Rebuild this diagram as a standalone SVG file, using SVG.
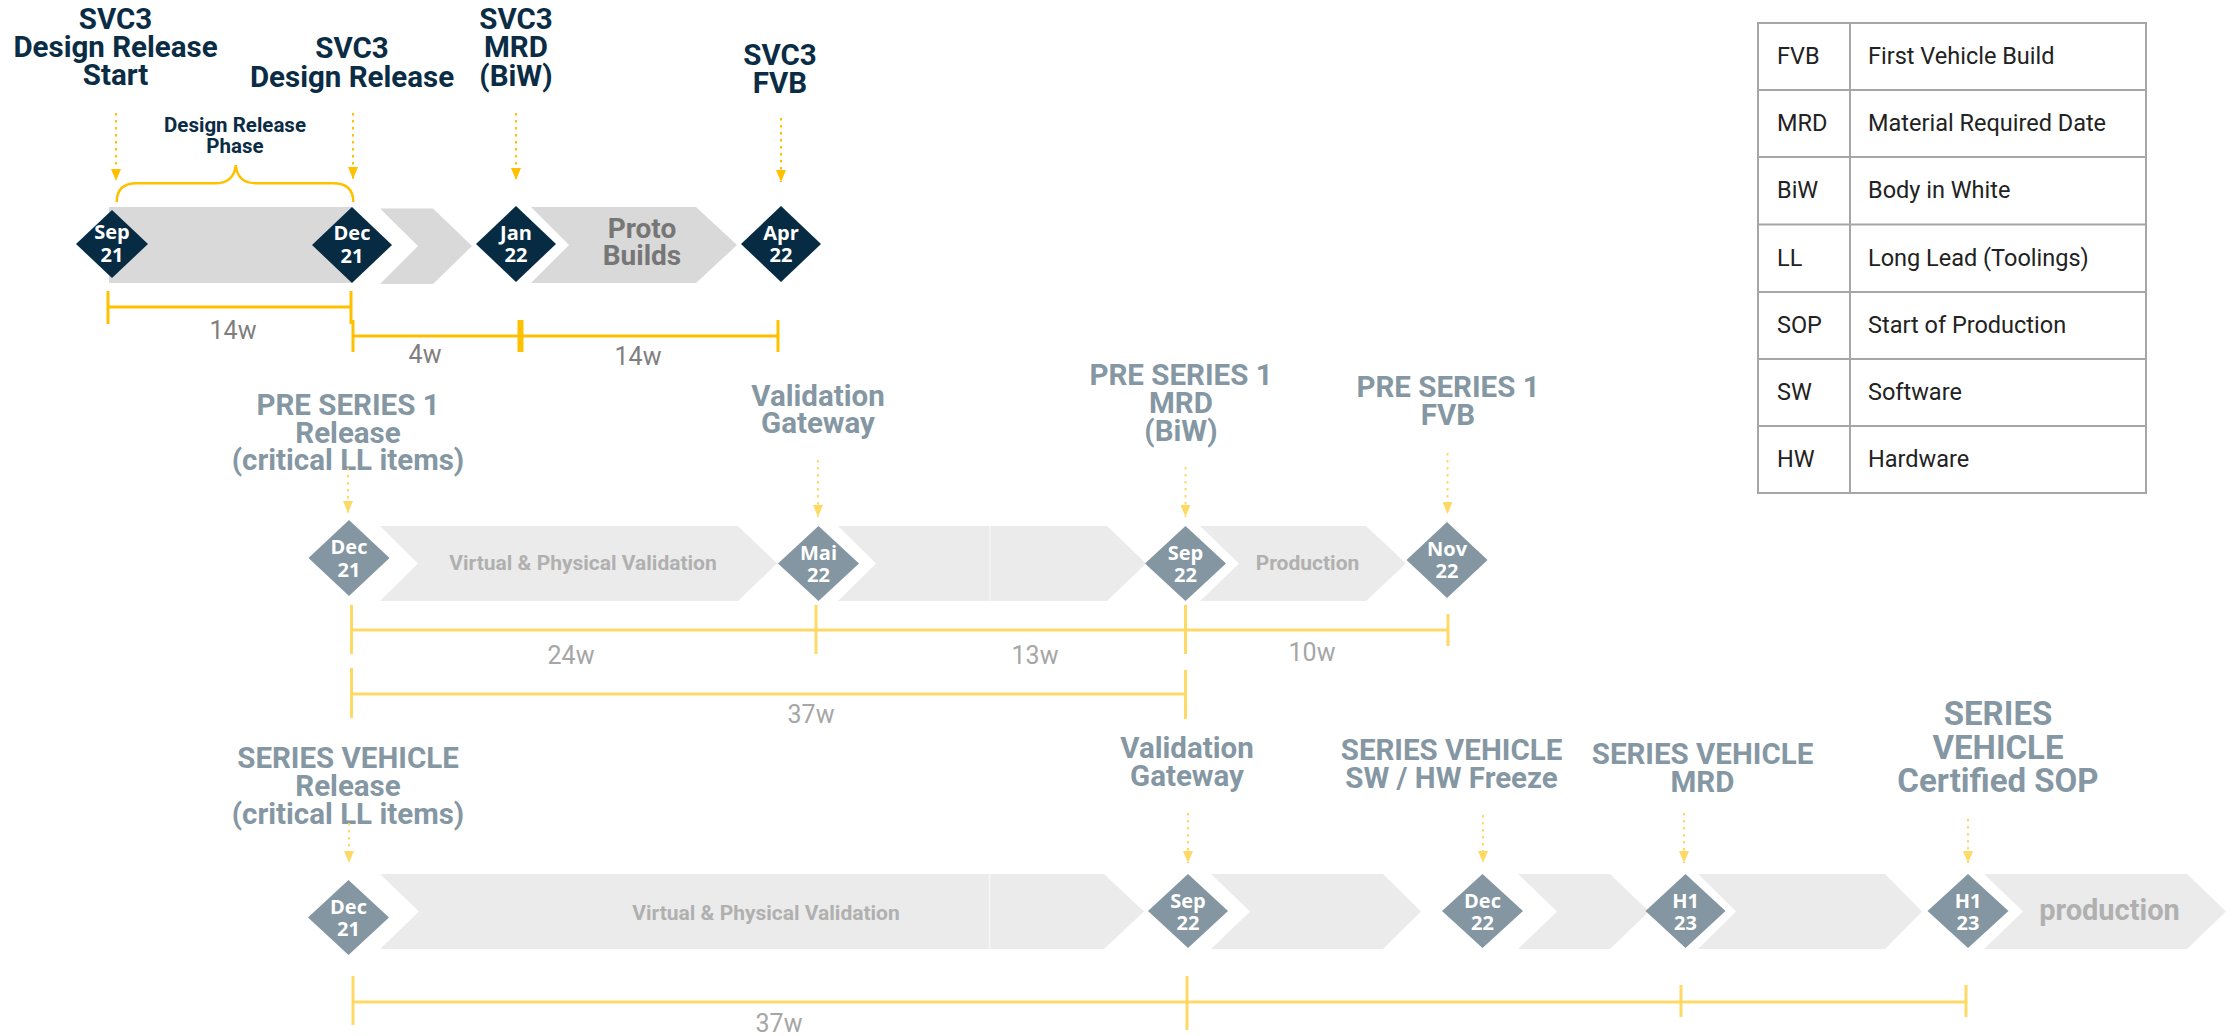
<svg xmlns="http://www.w3.org/2000/svg" width="2229" height="1036" viewBox="0 0 2229 1036">
<style>
.bg{fill:#ffffff}
.lbl1{font-family:Roboto,"Liberation Sans",sans-serif;font-weight:700;font-size:29.5px;fill:#0b2c45;text-anchor:middle}
.lbl2{font-family:Roboto,"Liberation Sans",sans-serif;font-weight:700;font-size:29.5px;fill:#8497a3;text-anchor:middle}
.big{font-size:33px}
.phase{font-family:Roboto,"Liberation Sans",sans-serif;font-weight:700;font-size:20.5px;fill:#0b2c45;text-anchor:middle}
.dtxt{font-family:"Open Sans","Liberation Sans",sans-serif;font-weight:700;font-size:20px;fill:#ffffff;text-anchor:middle}
.dk{fill:#062b43}
.lt{fill:#8396a1}
.ch1{fill:#d9d9d9}
.ch2{fill:#ebebeb}
.ctxt{font-family:Roboto,"Liberation Sans",sans-serif;font-weight:700;font-size:21px;fill:#b0b0b0;text-anchor:middle}
.proto{font-family:Roboto,"Liberation Sans",sans-serif;font-weight:700;font-size:28px;fill:#767676;text-anchor:middle}
.prod{font-family:Roboto,"Liberation Sans",sans-serif;font-weight:700;font-size:29px;fill:#b0b0b0;text-anchor:middle}
.dim1{stroke:#ffc000;stroke-width:3;fill:none}
.dim2{stroke:#ffd966;stroke-width:3;fill:none}
.w1{font-family:Roboto,"Liberation Sans",sans-serif;font-size:25px;fill:#7f7f7f;text-anchor:middle}
.w2{font-family:Roboto,"Liberation Sans",sans-serif;font-size:25px;fill:#a6a6a6;text-anchor:middle}
.dot1{stroke:#ffc000;stroke-width:2;stroke-dasharray:2.5 4.5;fill:none;marker-end:url(#ah1)}
.dot2{stroke:#ffd966;stroke-width:2;stroke-dasharray:2.5 4.5;fill:none;marker-end:url(#ah2)}
.brace{stroke:#ffc000;stroke-width:2.5;fill:none}
.seam{stroke:#f6f6f6;stroke-width:1.5}
.tb{fill:#ffffff;stroke:#a6a6a6;stroke-width:2}
.tl{stroke:#a6a6a6;stroke-width:2}
.tt{font-family:Roboto,"Liberation Sans",sans-serif;font-size:23.5px;fill:#222222}
</style>
<defs>
<marker id="ah1" markerUnits="userSpaceOnUse" markerWidth="12" markerHeight="10" refX="12" refY="5" orient="auto"><path d="M0,0 L12,5 L0,10 z" fill="#ffc000"/></marker>
<marker id="ah2" markerUnits="userSpaceOnUse" markerWidth="12" markerHeight="10" refX="12" refY="5" orient="auto"><path d="M0,0 L12,5 L0,10 z" fill="#ffd966"/></marker>
</defs>
<rect class="bg" x="0" y="0" width="2229" height="1036"/>

<!-- phase bars -->
<g id="bars">
<rect class="ch1" x="109" y="207" width="243" height="76"/>
<polygon class="ch1" points="380,208.5 433,208.5 472,246 433,284 380,284 418,246"/>
<polygon class="ch1" points="531,207 696,207 737,245 696,283 531,283 569,245"/>
<text class="proto" x="642" y="238">Proto</text>
<text class="proto" x="642" y="265">Builds</text>

<polygon class="ch2" points="380,526 738,526 777,563.5 738,601 380,601 418,563.5"/>
<text class="ctxt" x="583" y="570">Virtual &amp; Physical Validation</text>
<polygon class="ch2" points="838,526 1107,526 1146,563.5 1107,601 838,601 876,563.5"/>
<line class="seam" x1="990" y1="526" x2="990" y2="601"/>
<polygon class="ch2" points="1200,526 1366,526 1406,563.5 1366,601 1200,601 1239,563.5"/>
<text class="ctxt" x="1307.5" y="570">Production</text>

<polygon class="ch2" points="380,874 1104,874 1144,911.5 1104,949 380,949 419,911.5"/>
<line class="seam" x1="989.5" y1="874" x2="989.5" y2="949"/>
<text class="ctxt" x="766" y="920">Virtual &amp; Physical Validation</text>
<polygon class="ch2" points="1211,874 1383,874 1421,911.5 1383,949 1211,949 1250,911.5"/>
<polygon class="ch2" points="1518,874 1610,874 1649,911.5 1610,949 1518,949 1557,911.5"/>
<polygon class="ch2" points="1698,874 1885,874 1922,911.5 1885,949 1698,949 1736,911.5"/>
<polygon class="ch2" points="1984,874 2187,874 2226,911.5 2187,949 1984,949 2023,911.5"/>
<text class="prod" x="2109.5" y="920">production</text>
</g>

<!-- milestones row 1 -->
<g id="svc3-start">
<text class="lbl1" x="115.5" y="29">SVC3</text>
<text class="lbl1" x="115.5" y="57">Design Release</text>
<text class="lbl1" x="115.5" y="85">Start</text>
<polygon class="dk" points="112,210 148,244 112,278 76,244"/>
<text class="dtxt" x="112" y="238.5">Sep</text>
<text class="dtxt" x="112" y="261.5">21</text>
</g>
<g id="svc3-release">
<text class="lbl1" x="352" y="58">SVC3</text>
<text class="lbl1" x="352" y="87">Design Release</text>
<polygon class="dk" points="352,207 392,245 352,283 312,245"/>
<text class="dtxt" x="352" y="240">Dec</text>
<text class="dtxt" x="352" y="262.5">21</text>
</g>
<g id="svc3-mrd">
<text class="lbl1" x="516" y="29">SVC3</text>
<text class="lbl1" x="516" y="57">MRD</text>
<text class="lbl1" x="516" y="86">(BiW)</text>
<polygon class="dk" points="516,206 556,244 516,282 476,244"/>
<text class="dtxt" x="516" y="239.5">Jan</text>
<text class="dtxt" x="516" y="262">22</text>
</g>
<g id="svc3-fvb">
<text class="lbl1" x="780" y="65">SVC3</text>
<text class="lbl1" x="780" y="93">FVB</text>
<polygon class="dk" points="781,206 821,244 781,282 741,244"/>
<text class="dtxt" x="781" y="239.5">Apr</text>
<text class="dtxt" x="781" y="262">22</text>
</g>
<g id="phase-label">
<text class="phase" x="235" y="131.5">Design Release</text>
<text class="phase" x="235" y="152.5">Phase</text>
</g>

<!-- milestones row 2 -->
<g id="ps1-release">
<text class="lbl2" x="348" y="415">PRE SERIES 1</text>
<text class="lbl2" x="348" y="443">Release</text>
<text class="lbl2" x="348" y="470">(critical LL items)</text>
<polygon class="lt" points="349,520 389.5,558 349,596 308.5,558"/>
<text class="dtxt" x="349" y="554">Dec</text>
<text class="dtxt" x="349" y="576.5">21</text>
</g>
<g id="ps1-gateway">
<text class="lbl2" x="818" y="406">Validation</text>
<text class="lbl2" x="818" y="433">Gateway</text>
<polygon class="lt" points="818.5,526 859,563.5 818.5,601 778,563.5"/>
<text class="dtxt" x="818.5" y="559.5">Mai</text>
<text class="dtxt" x="818.5" y="582">22</text>
</g>
<g id="ps1-mrd">
<text class="lbl2" x="1181" y="385">PRE SERIES 1</text>
<text class="lbl2" x="1181" y="413">MRD</text>
<text class="lbl2" x="1181" y="441">(BiW)</text>
<polygon class="lt" points="1185.5,526 1226,563.5 1185.5,601 1145,563.5"/>
<text class="dtxt" x="1185.5" y="559.5">Sep</text>
<text class="dtxt" x="1185.5" y="582">22</text>
</g>
<g id="ps1-fvb">
<text class="lbl2" x="1448" y="397">PRE SERIES 1</text>
<text class="lbl2" x="1448" y="425">FVB</text>
<polygon class="lt" points="1447,522 1487.5,560 1447,598 1406.5,560"/>
<text class="dtxt" x="1447" y="555.5">Nov</text>
<text class="dtxt" x="1447" y="578">22</text>
</g>

<!-- milestones row 3 -->
<g id="sv-release">
<text class="lbl2" x="348" y="768">SERIES VEHICLE</text>
<text class="lbl2" x="348" y="796">Release</text>
<text class="lbl2" x="348" y="824">(critical LL items)</text>
<polygon class="lt" points="348.5,880 389,917.5 348.5,955 308,917.5"/>
<text class="dtxt" x="348.5" y="913.5">Dec</text>
<text class="dtxt" x="348.5" y="936">21</text>
</g>
<g id="sv-gateway">
<text class="lbl2" x="1187" y="758">Validation</text>
<text class="lbl2" x="1187" y="786">Gateway</text>
<polygon class="lt" points="1188,874 1228,911 1188,948 1148,911"/>
<text class="dtxt" x="1188" y="907.5">Sep</text>
<text class="dtxt" x="1188" y="930">22</text>
</g>
<g id="sv-freeze">
<text class="lbl2" x="1451.5" y="760">SERIES VEHICLE</text>
<text class="lbl2" x="1451.5" y="788">SW / HW Freeze</text>
<polygon class="lt" points="1482.5,874 1523,911 1482.5,948 1442,911"/>
<text class="dtxt" x="1482.5" y="907.5">Dec</text>
<text class="dtxt" x="1482.5" y="930">22</text>
</g>
<g id="sv-mrd">
<text class="lbl2" x="1702.5" y="764">SERIES VEHICLE</text>
<text class="lbl2" x="1702.5" y="792">MRD</text>
<polygon class="lt" points="1685.5,874 1725.5,911 1685.5,948 1645.5,911"/>
<text class="dtxt" x="1685.5" y="907.5">H1</text>
<text class="dtxt" x="1685.5" y="930">23</text>
</g>
<g id="sv-sop">
<text class="lbl2 big" x="1998" y="725">SERIES</text>
<text class="lbl2 big" x="1998" y="758.5">VEHICLE</text>
<text class="lbl2 big" x="1998" y="792">Certified SOP</text>
<polygon class="lt" points="1968,874 2008.5,911 1968,948 1927.5,911"/>
<text class="dtxt" x="1968" y="907.5">H1</text>
<text class="dtxt" x="1968" y="930">23</text>
</g>

<!-- legend -->
<g id="legend">
<rect class="tb" x="1758" y="23" width="388" height="470"/>
<line class="tl" x1="1850" y1="23" x2="1850" y2="493"/>
<line class="tl" x1="1758" y1="90" x2="2146" y2="90"/>
<line class="tl" x1="1758" y1="157" x2="2146" y2="157"/>
<line class="tl" x1="1758" y1="224.5" x2="2146" y2="224.5"/>
<line class="tl" x1="1758" y1="292" x2="2146" y2="292"/>
<line class="tl" x1="1758" y1="359" x2="2146" y2="359"/>
<line class="tl" x1="1758" y1="426" x2="2146" y2="426"/>
<text class="tt" x="1777" y="64">FVB</text><text class="tt" x="1868" y="64">First Vehicle Build</text>
<text class="tt" x="1777" y="131">MRD</text><text class="tt" x="1868" y="131">Material Required Date</text>
<text class="tt" x="1777" y="198">BiW</text><text class="tt" x="1868" y="198">Body in White</text>
<text class="tt" x="1777" y="266">LL</text><text class="tt" x="1868" y="266">Long Lead (Toolings)</text>
<text class="tt" x="1777" y="333">SOP</text><text class="tt" x="1868" y="333">Start of Production</text>
<text class="tt" x="1777" y="400">SW</text><text class="tt" x="1868" y="400">Software</text>
<text class="tt" x="1777" y="467">HW</text><text class="tt" x="1868" y="467">Hardware</text>
</g>

<!-- connectors -->
<g id="connectors">
<line class="dot1" x1="116" y1="113" x2="116" y2="181"/>
<line class="dot1" x1="353" y1="113" x2="353" y2="179"/>
<line class="dot1" x1="516" y1="113" x2="516" y2="180"/>
<line class="dot1" x1="781" y1="118" x2="781" y2="182"/>
<path class="brace" d="M116.7,202 Q116.7,183.3 137,183.3 L215,183.3 Q234,183.3 235.7,165 Q237.5,183.3 256,183.3 L333,183.3 Q353.3,183.3 353.3,202"/>

<line class="dot2" x1="348" y1="468" x2="348" y2="513"/>
<line class="dot2" x1="818" y1="460" x2="818" y2="517"/>
<line class="dot2" x1="1185.5" y1="467" x2="1185.5" y2="517"/>
<line class="dot2" x1="1447.5" y1="453" x2="1447.5" y2="514"/>

<line class="dot2" x1="349" y1="823" x2="349" y2="863"/>
<line class="dot2" x1="1188" y1="813" x2="1188" y2="863"/>
<line class="dot2" x1="1483" y1="815" x2="1483" y2="863"/>
<line class="dot2" x1="1684" y1="813" x2="1684" y2="863"/>
<line class="dot2" x1="1968" y1="819" x2="1968" y2="863"/>
</g>

<!-- durations -->
<g id="durations">
<path class="dim1" d="M108,291 V324 M108,307 H351 M351,291 V324 M353,320 V352 M353,336 H519 M519,320 V352 M522,320 V352 M522,336 H778 M778,320 V352"/>
<text class="w1" x="233" y="339">14w</text>
<text class="w1" x="425" y="363">4w</text>
<text class="w1" x="638" y="365">14w</text>

<path class="dim2" d="M351.5,605 V654 M351.5,630 H1448 M816,605 V654 M1185.5,605 V654 M1448,614 V646"/>
<text class="w2" x="571" y="664">24w</text>
<text class="w2" x="1035" y="664">13w</text>
<text class="w2" x="1312" y="661">10w</text>

<path class="dim2" d="M351.5,668 V718 M351.5,694 H1185.5 M1185.5,670 V719"/>
<text class="w2" x="811" y="723">37w</text>

<path class="dim2" d="M353,976 V1025 M353,1002 H1966 M1187,976 V1030 M1681,985 V1017 M1966,985 V1017"/>
<text class="w2" x="779" y="1032">37w</text>
</g>
</svg>
